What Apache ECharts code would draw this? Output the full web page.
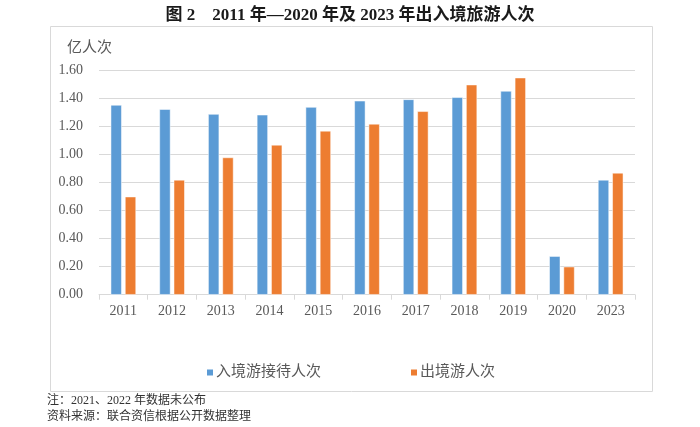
<!DOCTYPE html>
<html>
<head>
<meta charset="utf-8">
<script src="https://cdn.jsdelivr.net/npm/echarts@6/dist/echarts.min.js"></script>
<style>
html,body{margin:0;padding:0;background:#fff;}
#c{width:700px;height:427px;}
</style>
</head>
<body>
<div id="c"></div>
<script>
const categories = ['2011','2012','2013','2014','2015','2016','2017','2018','2019','2020','2023'];
const inbound = [1.355, 1.325, 1.29, 1.285, 1.34, 1.385, 1.395, 1.41, 1.455, 0.275, 0.82];
const outbound = [0.70, 0.82, 0.98, 1.07, 1.17, 1.22, 1.31, 1.50, 1.55, 0.20, 0.87];
const seriesNames = ['入境游接待人次', '出境游人次'];
const titleText = '图 2　2011 年—2020 年及 2023 年出入境旅游人次';
const note1 = '注：2021、2022 年数据未公布';
const note2 = '资料来源：联合资信根据公开数据整理';
const yName = '亿人次';

const serif = '"Liberation Serif", "Noto Sans CJK SC", serif';
const chart = echarts.init(document.getElementById('c'));
chart.setOption({
  animation: false,
  title: {
    text: titleText,
    left: 'center',
    top: 2,
    textStyle: { fontFamily: serif, fontSize: 17, fontWeight: 'bold', color: '#1a1a1a' }
  },
  graphic: [
    { type: 'rect', shape: { x: 50.5, y: 26.5, width: 602, height: 365 },
      style: { fill: 'none', stroke: '#d9d9d9', lineWidth: 1 }, z: -1 },
    { type: 'text', left: 47, top: 395, style: { text: note1, font: '12px ' + serif, fill: '#333' } },
    { type: 'text', left: 47, top: 411, style: { text: note2, font: '12px ' + serif, fill: '#333' } }
  ],
  legend: {
    data: seriesNames,
    left: 200,
    top: 360,
    itemWidth: 8,
    itemHeight: 8,
    itemGap: 88,
    icon: 'rect',
    textStyle: { fontFamily: serif, fontSize: 15, color: '#595959', padding: [0, 0, 0, -3] }
  },
  grid: { left: 99, right: 65, top: 70.7, bottom: 132.3, containLabel: false },
  xAxis: {
    type: 'category',
    data: categories,
    axisLine: { lineStyle: { color: '#d9d9d9' } },
    axisTick: { show: true, alignWithLabel: false, lineStyle: { color: '#d9d9d9' }, length: 5 },
    axisLabel: { fontFamily: serif, fontSize: 14, color: '#595959', margin: 10 }
  },
  yAxis: {
    type: 'value',
    min: 0, max: 1.6, interval: 0.2,
    name: yName,
    nameLocation: 'end',
    nameGap: 15,
    nameTextStyle: { fontFamily: serif, fontSize: 15, color: '#595959', align: 'left', padding: [0, 0, 0, -32] },
    axisLine: { show: false },
    axisTick: { show: false },
    splitLine: { lineStyle: { color: '#d9d9d9' } },
    axisLabel: { fontFamily: serif, fontSize: 14, color: '#595959', margin: 16,
      formatter: v => v.toFixed(2) }
  },
  series: [
    { name: seriesNames[0], type: 'bar', data: inbound, barWidth: 11, barGap: '30%',
      itemStyle: { color: '#5b9bd5', borderColor: '#fff', borderWidth: 0.5 } },
    { name: seriesNames[1], type: 'bar', data: outbound, barWidth: 11,
      itemStyle: { color: '#ed7d31', borderColor: '#fff', borderWidth: 0.5 } }
  ]
});
</script>
</body>
</html>
